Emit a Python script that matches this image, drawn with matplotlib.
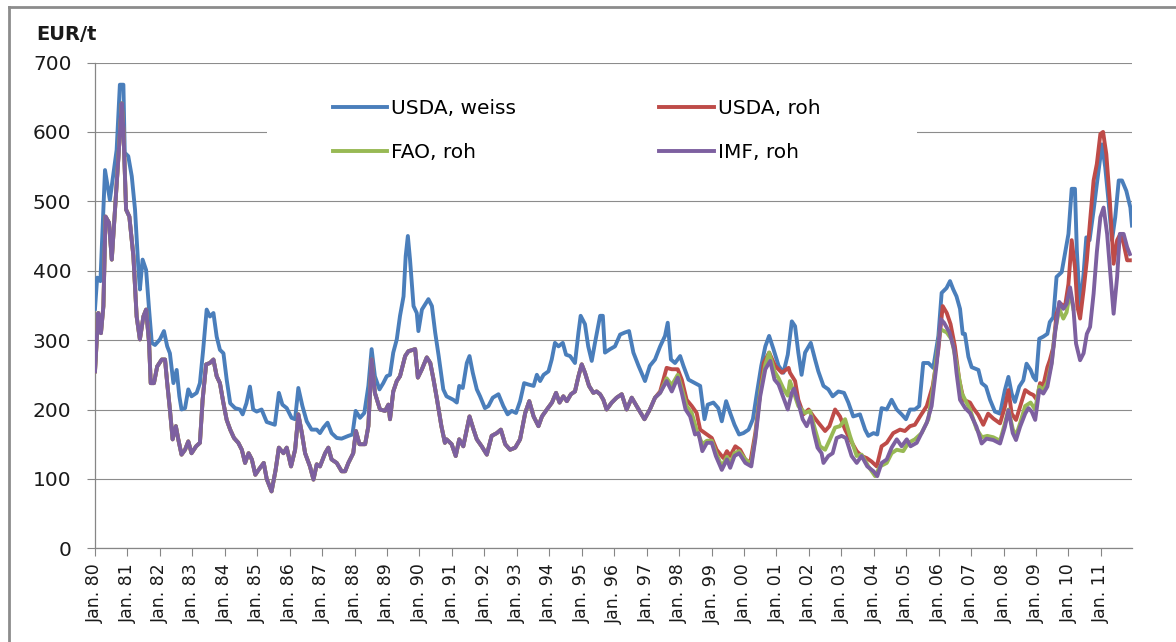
import matplotlib.pyplot as plt
from matplotlib.patches import Rectangle
from matplotlib.lines import Line2D

# month index (0 = Jan 1980) and price in EUR/t

# USDA, weiss
m_weiss = [0, 0.8, 2, 3.7, 5.5, 6.8, 8, 9.2, 10.5, 11, 12.3, 13.6, 14.8, 16, 16.6, 17.6, 18.9,
           20, 21, 22.2, 24, 25.5, 26.7, 27.7, 29, 30.2, 31.2, 32, 33.3, 34.5, 35.7, 37.6, 38.8,
           40, 41.3, 42.5, 43.8, 45, 46.2, 47.5, 48.7, 50, 51.8, 53.6, 54.6, 56, 57.3, 58.5, 59.8,
           61.6, 63.5, 66.5, 68, 69.3, 70.9, 72.7, 74, 75.2, 76.7, 78.3, 80.1, 82, 83.2, 84.5, 86,
           87.5, 89.4, 91.2, 93.7, 95.2, 96.4, 98, 99.6, 101.1, 102.3, 103.5, 105.2, 106.6, 107.9,
           109.1, 110.3, 111.6, 112.8, 114.1, 114.9, 115.7, 116.5, 117.8, 119, 119.6, 120.9, 123.3,
           124.6, 125.8, 127.1, 128.8, 130, 132.5, 133.8, 134.7, 136, 137.5, 138.5, 139.7, 141.2,
           142.4, 144.2, 145.5, 147.1, 149.2, 151, 152.6, 154.1, 155.7, 157.2, 158.7, 160.3, 162.2,
           163.4, 164.6, 165.9, 167.7, 168.9, 170.1, 171.4, 173, 174.2, 175.7, 177.5, 178.8, 179.6,
           181.2, 182.4, 183.7, 184.9, 186.8, 187.8, 188.6, 190.5, 192.3, 194.2, 196, 197.5, 199.1,
           201, 203.4, 205.2, 207.1, 209, 210.8, 211.8, 213, 214.5, 216.4, 217.6, 219.5, 221.9,
           223.8, 225.4, 226.6, 228.7, 230.5, 231.8, 233.4, 234.9, 236.5, 238.2, 239.8, 241.7,
           243.3, 244.8, 246.4, 247.9, 249.3, 250.9, 252.8, 254.6, 256.2, 257.7, 258.9, 260.1,
           261.3, 262.6, 264.7, 266.3, 267.5, 269.4, 271.2, 272.8, 274.9, 277, 278.6, 280.4, 282.9,
           284.8, 286, 287.9, 289.3, 290.9, 292.8, 294.6, 296.5, 298.3, 299.9, 301.4, 303.2, 304.8,
           306.3, 308.2, 310, 311.9, 313.1, 314.9, 316.2, 317.4, 318.6, 319.9, 320.9, 321.7, 323,
           324.2, 326.7, 327.9, 329.5, 331, 332.8, 334.7, 336.5, 337.8, 339, 340.2, 341.8, 343.3,
           344.5, 346, 347, 348, 349.2, 350.7, 352.2, 353.1, 354.4, 355.6, 357.5, 358.7, 360,
           361.2, 362.4, 363.1, 364.3, 365.6, 366.6, 367.8, 369.3, 370.5, 372.4, 373.6, 374.8,
           376.1, 377.3, 378.6, 379.8, 381.4, 382.9, 383.5]
usda_weiss = [345, 390, 385, 545, 502, 540, 574, 668, 668, 570, 565, 536, 488, 406, 373, 416, 401,
              344, 296, 293, 301, 313, 291, 281, 238, 257, 219, 200, 202, 229, 219, 224, 238,
              286, 344, 334, 339, 305, 286, 281, 243, 209, 202, 200, 193, 209, 233, 200, 197,
              200, 182, 178, 224, 207, 202, 188, 186, 231, 205, 183, 171, 171, 166, 174, 181,
              166, 159, 158, 162, 164, 198, 188, 195, 234, 287, 248, 229, 238, 248,
              250, 282, 301, 335, 363, 421, 450, 416, 349, 339, 313, 344, 359,
              349, 311, 277, 229, 219, 214, 210, 234, 231, 267, 277, 253, 229,
              219, 202, 205, 217, 222, 205, 193, 198, 195, 212, 238, 236, 234,
              250, 241, 250, 255, 272, 296, 291, 296, 279, 277, 267, 311, 335,
              323, 291, 270, 296, 335, 335, 282, 287, 291, 308, 311, 313, 282,
              263, 241, 263, 272, 291, 306, 325, 272, 267, 277, 263, 243, 238,
              234, 186, 207, 210, 202, 183, 212, 195, 178, 164, 166, 171,
              186, 224, 263, 291, 306, 287, 263, 253, 279, 327, 320, 282,
              250, 282, 296, 272, 255, 234, 229, 219, 226, 224, 210, 190, 193,
              171, 162, 166, 164, 202, 200, 214, 200, 193, 186, 200, 200, 205,
              267, 267, 260, 306, 368, 375, 385, 373, 363, 345, 309, 309, 276,
              261, 257, 238, 233, 214, 197, 194, 228, 247, 223, 211, 233, 242,
              266, 257, 247, 242, 302, 305, 309, 326, 333, 391, 398, 424, 453,
              518, 518, 429, 343, 396, 448, 444, 487, 525, 582, 549, 501,
              444, 477, 530, 530, 515, 491, 465]

# raw sugar 1980 - mid 1997: USDA, FAO and IMF series lie on top of each other
m_roh_early = [0, 1.2, 2.2, 3.1, 3.9, 5.2, 6.2, 7.4, 8.6, 9.9, 10.5, 11.5, 12.7, 14.2, 15.4, 16.6,
               17.9, 18.9, 20, 20.6, 21.8, 23, 24.7, 25.9, 26.7, 27.7, 28.7, 29.9, 30.8, 32, 33.3,
               34.5, 35.7, 37.4, 38.8, 39.8, 41.1, 42.5, 43.8, 45, 46.2, 47.5, 48.7, 50, 51.4, 53,
               54.3, 55.5, 56.8, 58, 59.3, 60.5, 62.4, 63.5, 65.3, 66.8, 68, 69.7, 70.9, 72.5, 74,
               75.2, 76.5, 77.7, 79.5, 80.8, 82, 83.2, 85.1, 86.3, 87.5, 89.4, 91.2, 92.5, 93.7,
               95.5, 96.5, 97.8, 99.9, 101.1, 102.3, 103.5, 105.4, 107.3, 108.5, 109.1, 110.3,
               111.6, 112.8, 114.7, 115.9, 118.4, 119.4, 120.9, 122.7, 124, 125.2, 126.5, 128.1,
               129.4, 130, 131.9, 133.4, 134.7, 136.2, 138.5, 140, 141.2, 143, 144.9, 146.7, 148.6,
               150.1, 151.7, 153.5, 155.4, 157.2, 159.1, 160.6, 162.2, 164, 165.3, 167.1, 169,
               170.5, 171.8, 173.2, 174.5, 176, 177.5, 178.8, 180, 181.2, 182.7, 184.3, 185.5,
               186.8, 188, 189.2, 191.1, 192.9, 194.8, 196.6, 198.5, 200.3, 203.2, 205.2, 207.1]
roh_early = [255, 339, 310, 349, 478, 469, 416, 488, 560, 641, 603, 488, 478, 421, 334, 301,
             334, 344, 296, 238, 238, 262, 272, 272, 238, 200, 157, 176, 157, 135, 142,
             154, 137, 147, 152, 214, 265, 267, 272, 248, 238, 209, 185, 171, 159, 152,
             142, 123, 137, 128, 106, 113, 123, 100, 82, 113, 145, 137, 145, 118, 142,
             193, 166, 137, 118, 99, 121, 118, 137, 145, 128, 123, 111, 111, 123,
             137, 169, 150, 150, 176, 272, 224, 200, 198, 207, 186, 226,
             241, 248, 277, 284, 287, 246, 258, 275, 267, 243, 214, 176,
             152, 157, 150, 133, 157, 147, 190, 171, 157, 147, 135, 162, 166,
             171, 150, 142, 145, 157, 195, 212, 190, 176, 190, 200, 210,
             224, 210, 219, 212, 222, 226, 248, 265, 253, 234, 224, 226,
             222, 214, 200, 210, 217, 222, 200, 217, 205, 186, 200, 217]

# USDA, roh from mid 1997
m_usda_late = [209, 211.4, 213.3, 215.5, 217, 218.8, 220.7, 222.5, 223.8, 225.6, 228.1, 229.9,
               232.4, 233.7, 234.9, 236.8, 238.6, 240.5, 242.3, 244.2, 247.3, 249.3, 251.5, 254,
               256.5, 257, 258.9, 260.1, 262, 263.9, 265.7, 267.5, 270, 271.6, 273.7, 275.5,
               277.4, 279.2, 281.7, 283.5, 285.4, 287.2, 289.1, 290.9, 292.8, 295.2, 297.7, 299.5,
               301.4, 303.2, 305.1, 307.6, 309.8, 311.9, 313.5, 315, 316.4, 318, 319.6, 321.2,
               323.6, 324.8, 326.7, 328.5, 330.3, 332.2, 334.7, 336.5, 337.8, 339, 340.6, 342.1,
               344, 345.8, 347, 348.3, 349.5, 350.7, 352.2, 353.1, 354.4, 355.6, 356.9, 358.7, 360,
               361.2, 362.4, 363.3, 364.3, 365.6, 366.8, 368, 369.3, 370.5, 371.8, 372.8, 374,
               375.3, 376.7, 378, 379.2, 380.4, 381.7, 382.7]
usda_roh_late = [226, 260, 258, 258, 243, 214, 205, 195, 171, 166, 159, 142,
                 130, 140, 133, 147, 142, 128, 123, 166, 267, 282, 263, 253,
                 260, 253, 241, 214, 193, 200, 190, 181, 169, 176, 200, 190,
                 171, 157, 140, 133, 130, 125, 118, 147, 152, 166, 171, 169,
                 176, 178, 190, 205, 234, 287, 349, 339, 323, 291, 243, 214,
                 210, 202, 192, 178, 194, 187, 180, 204, 228, 194, 185, 204,
                 228, 223, 221, 214, 238, 235, 261, 271, 290, 338, 353, 348, 381,
                 444, 405, 348, 331, 372, 415, 472, 530, 554, 597, 600, 568,
                 501, 410, 444, 453, 439, 415, 415]

# FAO, roh from mid 1997
m_fao_late = [209, 211.4, 213.3, 215.5, 217, 218.8, 220.7, 222.5, 224.6, 226.3, 228.1, 229.6,
              231.8, 233.7, 234.9, 236.5, 238.2, 240.5, 242.7, 244.2, 246, 247.9, 249.3, 251.3,
              252.8, 254.6, 256.2, 257, 260.1, 262.6, 264.4, 266.3, 268.1, 270, 271.8, 273.7,
              275.5, 277.4, 279.2, 281.7, 283.5, 286, 288.5, 290.3, 292.8, 294.6, 296.5, 298.9,
              300.8, 303.2, 305.7, 308.2, 310, 312.5, 315, 316.8, 318.6, 320.5, 323.6, 326, 328,
              330, 332.2, 334.7, 336.5, 337.8, 339.4, 340.6, 342.1, 344, 346, 347.7, 349.2, 350.7,
              352.2, 353.8, 355, 356.6, 358.1, 359.3, 360.6, 361.8]
fao_roh_late = [224, 245, 235, 250, 230, 205, 195, 170, 150, 155, 155, 138,
                118, 132, 122, 137, 140, 128, 122, 160, 225, 265, 282, 255,
                245, 230, 220, 241, 205, 195, 198, 171, 147, 142, 157, 174,
                176, 186, 162, 133, 135, 118, 104, 118, 123, 137, 142, 140,
                152, 157, 166, 186, 234, 316, 311, 301, 267, 224, 200, 172, 160,
                162, 160, 155, 180, 200, 172, 162, 180, 205, 210, 200, 233, 228,
                240, 268, 312, 345, 331, 340, 370, 345]

# IMF, roh from mid 1997
m_imf_late = [209, 211.4, 213.3, 215.5, 217, 218.4, 220.1, 221.9, 223.2, 224.6, 226.3, 228.1,
              229.6, 231.8, 233.7, 234.9, 236.5, 238.2, 240.5, 242.7, 244.2, 246, 247.9, 249.7,
              251.3, 252.8, 254.6, 256.2, 257.7, 258.5, 260.1, 261.7, 263.2, 264.7, 265.9, 267.2,
              268.7, 269.4, 271.2, 272.8, 274.3, 276.1, 277.7, 279.8, 281.7, 283.5, 285.6, 287.9,
              289.3, 290.9, 292.8, 294.6, 296.5, 298.3, 300.2, 301.6, 303.9, 305.7, 307.6, 309.4,
              311.3, 312.8, 314, 316, 317.7, 318.6, 319.9, 321.8, 323.6, 326, 327.9, 329.7, 332.2,
              334.7, 336.5, 337.8, 339.4, 340.6, 342.1, 344, 345.2, 346.4, 347.7, 349.2, 350.7,
              352.2, 353.8, 355, 356.6, 358.1, 359.3, 360.6, 361.8, 362.8, 364.3, 365.6, 366.8,
              368, 369.3, 370.5, 371.8, 373, 374.3, 375.5, 376.7, 378, 379, 380.4, 381.7, 382.7]
imf_roh_late = [224, 241, 226, 246, 224, 200, 190, 164, 166, 140, 152, 152,
                133, 113, 128, 116, 133, 137, 123, 118, 157, 219, 258, 270,
                243, 236, 217, 200, 224, 230, 210, 186, 176, 190, 166, 145,
                137, 123, 133, 137, 159, 162, 159, 133, 123, 133, 118, 111,
                104, 123, 128, 145, 157, 147, 157, 147, 152, 166, 181, 205,
                267, 330, 325, 311, 287, 253, 214, 202, 195, 175, 151, 158, 156,
                151, 175, 199, 166, 156, 175, 194, 202, 197, 185, 228, 223,
                233, 266, 309, 355, 345, 352, 376, 348, 295, 271, 281, 309,
                319, 367, 427, 477, 491, 453, 396, 338, 391, 453, 453, 434, 424]

tick_pos = list(range(0, 384, 12))
tick_labels = ["Jan. 80", "Jan. 81", "Jan. 82", "Jan. 83", "Jan. 84", "Jan. 85", "Jan. 86",
               "Jan. 87", "Jan. 88", "Jan. 89", "Jan. 90", "Jan. 91", "Jan. 92", "Jan. 93",
               "Jan. 94", "Jan. 95", "Jan. 96", "Jan. 97", "Jan. 98", "Jan. 99", "Jan. 00",
               "Jan. 01", "Jan. 02", "Jan. 03", "Jan. 04", "Jan. 05", "Jan. 06", "Jan. 07",
               "Jan. 08", "Jan. 09", "Jan. 10", "Jan. 11"]

W, H = 1176, 642
fig = plt.figure(figsize=(W / 100, H / 100), dpi=100)
ax = fig.add_axes([95 / W, 1 - 548.3 / H, (1132 - 95) / W, (548.3 - 62.5) / H])

lw = 2.8
h_w, = ax.plot(m_weiss, usda_weiss, color='#4A7EBB', lw=lw, solid_joinstyle='round',
               label='USDA, weiss', zorder=3)
h_u, = ax.plot(m_roh_early + m_usda_late, roh_early + usda_roh_late, color='#BE4B48', lw=lw,
               solid_joinstyle='round', label='USDA, roh', zorder=3)
h_f, = ax.plot(m_roh_early + m_fao_late, roh_early + fao_roh_late, color='#98B954', lw=lw,
               solid_joinstyle='round', label='FAO, roh', zorder=3)
h_i, = ax.plot(m_roh_early + m_imf_late, roh_early + imf_roh_late, color='#7D60A0', lw=lw,
               solid_joinstyle='round', label='IMF, roh', zorder=3)

ax.set_xlim(0, 383.5)
ax.set_ylim(0, 700)
ax.set_yticks(range(0, 701, 100))
ax.set_xticks(tick_pos)
ax.set_xticklabels(tick_labels, rotation=90)

gray = '#868686'
ax.set_axisbelow(True)
ax.yaxis.grid(True, color='#8c8c8c', lw=0.8)
for s in ['top', 'right']:
    ax.spines[s].set_visible(False)
for s in ['left', 'bottom']:
    ax.spines[s].set_color(gray)
    ax.spines[s].set_linewidth(0.9)
ax.tick_params(axis='x', length=6, width=0.8, color=gray, pad=5, labelsize=12.5,
               labelcolor='#1a1a1a')
ax.tick_params(axis='y', length=6, width=0.8, color=gray, pad=11, labelsize=14.5,
               labelcolor='#1a1a1a')

# white legend area hides the gridline behind it
ax.add_artist(Rectangle((267 / W, 1 - 192 / H), (917 - 267) / W, (192 - 74) / H,
                        transform=fig.transFigure, facecolor='white', edgecolor='none',
                        zorder=1))
ax.legend(handles=[h_w, h_f, h_u, h_i], ncol=2, loc='upper left',
          bbox_to_anchor=(333 / W, 1 - 99 / H), bbox_transform=fig.transFigure,
          frameon=False, fontsize=14.5, handlelength=2.7, handletextpad=0.2,
          columnspacing=7.1, labelspacing=1.25, borderpad=0, borderaxespad=0)

fig.text(36 / W, 1 - 35 / H, 'EUR/t', fontsize=14, fontweight='bold', va='center',
         ha='left', color='#1a1a1a')

# chart frame (left and top edges visible)
fig.add_artist(Line2D([9 / W, 9 / W], [0, 1 - 7 / H], transform=fig.transFigure,
                      color='#8c8c8c', lw=2))
fig.add_artist(Line2D([9 / W, 1], [1 - 7 / H, 1 - 7 / H], transform=fig.transFigure,
                      color='#8c8c8c', lw=2))

fig.savefig('out.png', dpi=100)
